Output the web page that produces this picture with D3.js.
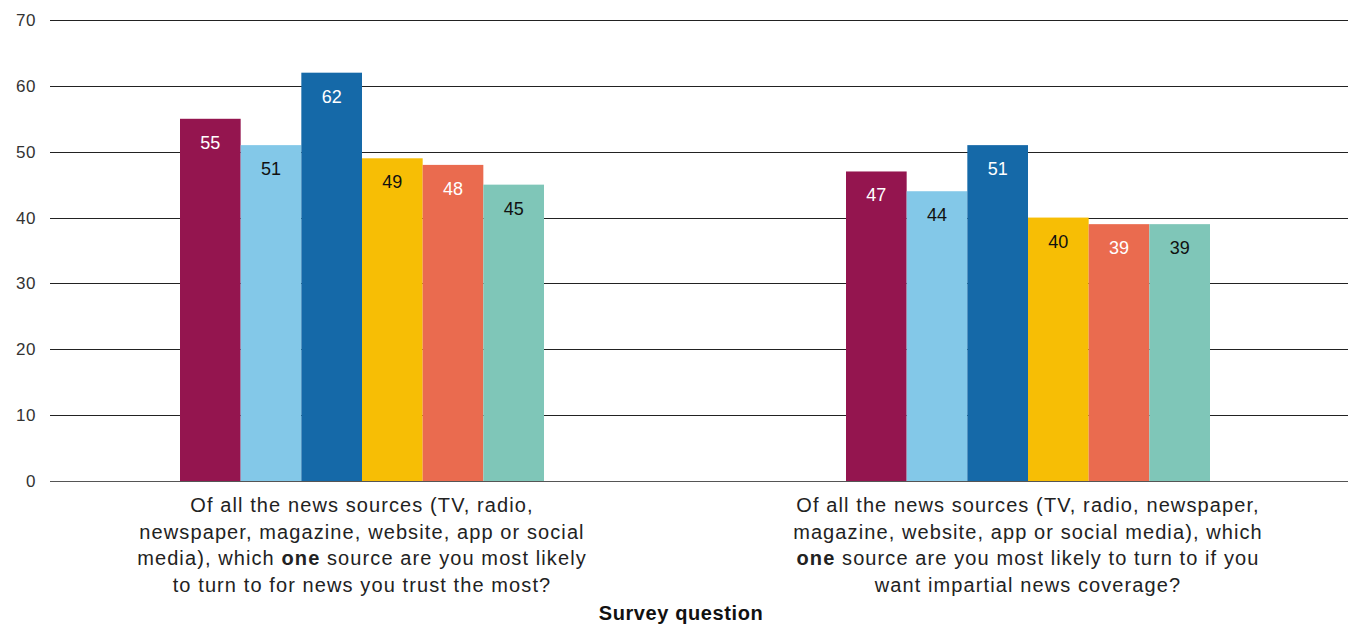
<!DOCTYPE html>
<html>
<head>
<meta charset="utf-8">
<script src="https://cdn.jsdelivr.net/npm/d3@7"></script>
<style>
  body { margin: 0; background: #fff; }
  svg { display: block; font-family: "Liberation Sans", Arial, sans-serif; }
</style>
</head>
<body>
<div class="chart"></div>
<script>
var width = 1348,
    height = 624;

// data
var questions = ["trust", "impartial"];
var questionLines = [
  [["Of all the news sources (TV, radio,"],
   ["newspaper, magazine, website, app or social"],
   ["media), which ", "one", " source are you most likely"],
   ["to turn to for news you trust the most?"]],
  [["Of all the news sources (TV, radio, newspaper,"],
   ["magazine, website, app or social media), which"],
   ["", "one", " source are you most likely to turn to if you"],
   ["want impartial news coverage?"]]
];
var series = ["s1", "s2", "s3", "s4", "s5", "s6"];
var values = [
  [55, 51, 62, 49, 48, 45],
  [47, 44, 51, 40, 39, 39]
];
var yTicks = [0, 10, 20, 30, 40, 50, 60, 70];

var colors = ["#94154f", "#83c8e8", "#1569a8", "#f7be05", "#ea6b4f", "#7fc6b8"];
var labelColors = ["#fff", "#111", "#fff", "#111", "#fff", "#111"];

var svg = d3.select("div.chart").append("svg")
    .attr("width", width)
    .attr("height", height);

var y = d3.scaleLinear().domain([0, 70]).range([481, 20]);

var x0 = d3.scaleBand().domain(questions).range([29, 1361]);
var groupWidth = 364;
var x1 = d3.scaleBand().domain(series).range([0, groupWidth]);

// title, mostly cut off at the top edge in the original
svg.append("text")
    .attr("x", 0)
    .attr("y", -3)
    .style("font-size", "17px")
    .style("fill", "#444")
    .text("Percentage agreeing with each question, by group (%)");

// gridlines
var grid = svg.append("g").attr("class", "grid");
grid.selectAll("line")
    .data(yTicks)
    .enter().append("line")
    .attr("x1", 50)
    .attr("x2", width)
    .attr("y1", function(d) { return Math.round(y(d)) + 0.5; })
    .attr("y2", function(d) { return Math.round(y(d)) + 0.5; })
    .attr("stroke", function(d) { return d === 0 ? "#555" : "#222"; })
    .attr("stroke-width", 1);

grid.selectAll("text")
    .data(yTicks)
    .enter().append("text")
    .attr("x", 36)
    .attr("y", function(d) { return y(d) + 6; })
    .style("text-anchor", "end")
    .style("font-size", "17px")
    .style("letter-spacing", "0.5px")
    .style("fill", "#333")
    .text(function(d) { return d; });

// bars
var groups = svg.selectAll("g.group")
    .data(questions)
    .enter().append("g")
    .attr("class", "group")
    .attr("transform", function(q) {
      return "translate(" + (x0(q) + (x0.bandwidth() - groupWidth) / 2) + ",0)";
    });

groups.selectAll("rect")
    .data(function(q, i) { return values[i]; })
    .enter().append("rect")
    .attr("x", function(d, j) { return x1(series[j]); })
    .attr("width", x1.bandwidth())
    .attr("y", function(d) { return y(d); })
    .attr("height", function(d) { return y(0) - y(d); })
    .attr("fill", function(d, j) { return colors[j]; });

groups.selectAll("text")
    .data(function(q, i) { return values[i]; })
    .enter().append("text")
    .attr("x", function(d, j) { return x1(series[j]) + x1.bandwidth() / 2; })
    .attr("y", function(d) { return y(d) + 30; })
    .style("text-anchor", "middle")
    .style("font-size", "18px")
    .style("fill", function(d, j) { return labelColors[j]; })
    .text(function(d) { return d; });

// category labels
questions.forEach(function(q, i) {
  var cx = x0(q) + x0.bandwidth() / 2;
  var t = svg.append("text")
      .attr("x", cx)
      .attr("y", 512)
      .style("text-anchor", "middle")
      .style("font-size", "20px")
      .style("letter-spacing", "1.1px")
      .style("fill", "#222");
  questionLines[i].forEach(function(parts, k) {
    var line = t.append("tspan")
        .attr("x", cx)
        .attr("y", 512 + k * 26.5);
    parts.forEach(function(p, m) {
      if (p === "") return;
      line.append("tspan")
          .style("font-weight", m === 1 ? "bold" : "normal")
          .text(p);
    });
  });
});

svg.append("text")
    .attr("x", 681)
    .attr("y", 620)
    .style("text-anchor", "middle")
    .style("font-size", "20px")
    .style("letter-spacing", "0.6px")
    .style("font-weight", "bold")
    .style("fill", "#111")
    .text("Survey question");
</script>
</body>
</html>
